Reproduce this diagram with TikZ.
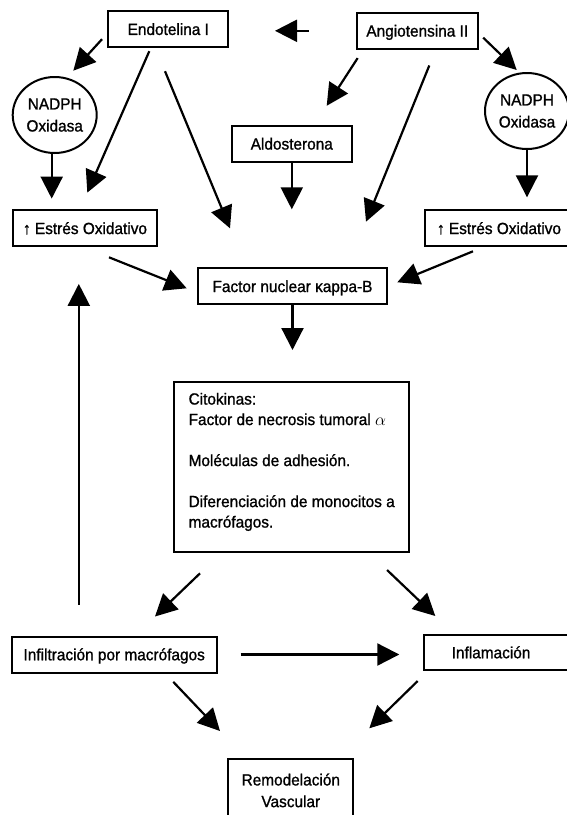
\documentclass[tikz,border=0pt]{standalone}
\usepackage{fontspec}
\setmainfont{Liberation Sans}[FakeBold=1.1, FakeStretch=0.95]
\usetikzlibrary{calc}
\usetikzlibrary{arrows.meta}
\usetikzlibrary{shapes.geometric}

\begin{document}
\begin{tikzpicture}[x=1pt, y=-1pt,
        font=\fontsize{16.2}{20.5}\selectfont,
        box/.style={draw, line width=2pt, inner sep=0pt, outer sep=0pt},
        tbox/.style={box, text height=11.5pt, text depth=0pt, minimum height=36pt},
        oval/.style={box, ellipse, minimum width=84pt, minimum height=76pt, align=center,
                     font=\fontsize{16.2}{22}\selectfont},
        arr/.style={line width=2.2pt, -{Triangle[length=22pt, width=22pt]}}]
    \useasboundingbox (0,0) rectangle (566,815);

    \node[tbox, minimum width=120pt]   (endo)    at (168.3,  29.2) {Endotelina I};
    \node[tbox, minimum width=120.7pt] (ang)     at (417.3,  30.8) {Angiotensina II};
    \node[oval]                        (nadphL)  at ( 54.7, 115.0) {NADPH\\Oxidasa};
    \node[oval]                        (nadphR)  at (527.0, 111.0) {NADPH\\Oxidasa};
    \node[tbox, minimum width=120.3pt] (aldo)    at (291.8, 143.8) {Aldosterona};
    \node[tbox, minimum width=144.6pt] (estL)    at ( 85.0, 228.3) {↑ Estrés Oxidativo};
    \node[tbox, minimum width=148pt]   (estR)    at (499.0, 228.3) {↑ Estrés Oxidativo};
    \node[tbox, minimum width=189.6pt] (factor)  at (292.5, 286.3) {Factor nuclear κappa-B};
    \node[box, minimum height=170pt, minimum width=235.3pt, align=left]
                                       (cito)    at (291.7, 466.7)
        {Citokinas:\\Factor de necrosis tumoral $\alpha$\\[20.5pt]Moléculas de adhesión.\\[20.5pt]Diferenciación de monocitos a\\macrófagos.\rule[-13pt]{0pt}{1pt}};
    \node[tbox, minimum width=205pt]   (infil)   at (114.2, 654.5) {Infiltración por macrófagos};
    \node[tbox, minimum height=35pt, text width=96pt, inner xsep=28pt, align=left]
                                       (infl)    at (499.7, 652.5) {Inflamación};
    \node[box, minimum width=125pt, inner ysep=14.5pt, align=center, anchor=north,
          font=\fontsize{16.2}{21.7}\selectfont]
                                       (remo)    at (290.8, 759.0) {Remodelación\\Vascular};

    \draw[arr, shorten <=48.3pt, shorten >=46.7pt] (ang.west) -- (endo.east |- ang.west);
    \draw[arr] ($(endo.west)+(-6.3,10)$)     -- ($(nadphL.north)+(18.6,-6.3)$);
    \draw[arr] ($(endo.south)+(-19,4)$)      -- ($(estL.north)+(2.3,-17.7)$);
    \draw[arr] ($(endo.south)+(-3.3,24)$)    -- ($(factor.north)+(-62.5,-40)$);
    \draw[arr] ($(nadphL.south)+(-3,1)$)     -- ($(estL.north)+(-33.3,-11.7)$);
    \draw[arr] ($(ang.south west)+(0.7,9.3)$) -- ($(aldo.north)+(34.9,-20)$);
    \draw[arr] ($(ang.south)+(12,16.7)$)     -- ($(factor.north)+(73.5,-46.6)$);
    \draw[arr] ($(ang.east)+(5.6,6.9)$)      -- ($(nadphR.north)+(-10.3,-3)$);
    \draw[arr, shorten >=13pt] (nadphR.south) -- (nadphR.south |- estR.north);
    \draw[arr, shorten <=1.6pt, shorten >=59pt] (aldo.south) -- (aldo.south |- factor.north);
    \draw[arr] ($(estL.south)+(24,11)$)      -- ($(factor.west)+(-11,2)$);
    \draw[arr] ($(estR.south)+(-26,5)$)      -- ($(factor.east)+(10,-4)$);
    \draw[arr, shorten >=31.7pt] (factor.south) -- (factor.south |- cito.north);
    \draw[arr] ($(infil.north west)+(67.1,-31.7)$) -- ($(estL.south west)+(66.1,37.6)$);
    \draw[arr] ($(cito.south west)+(26,21.6)$)    -- ($(infil.north)+(40.8,-20)$);
    \draw[arr] ($(cito.south east)+(-22.3,18.3)$) -- ($(infl.north west)+(11.6,-19)$);
    \draw[arr, shorten <=24pt, shorten >=24.4pt] (infil.east) -- (infil.east -| infl.west);
    \draw[arr] ($(infil.south)+(59.1,9.4)$)       -- ($(remo.north west)+(-8.3,-28)$);
    \draw[arr] ($(infl.south west)+(-6,11)$)      -- ($(remo.north east)+(16,-30.7)$);
\end{tikzpicture}
\end{document}
